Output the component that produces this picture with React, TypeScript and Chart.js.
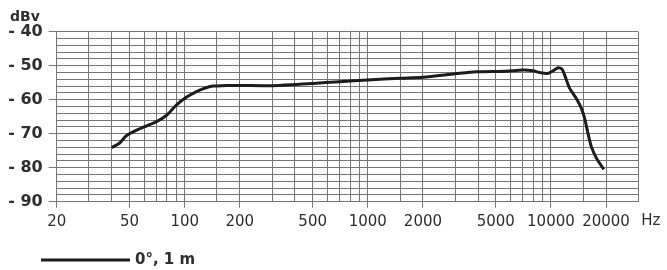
import React, { useEffect, useRef } from "react";
import { Chart, registerables } from "chart.js";

Chart.register(...registerables);

// Frequency response data (Hz, dBV)
const frequencies = [
  40, 44, 48, 55, 62, 70, 80, 90, 102, 116, 131, 143, 169, 200, 300, 390, 500, 700,
  1000, 1500, 2000, 3000, 3900, 5700, 7000, 7960, 8800, 9600, 10260, 10930, 11530,
  11870, 12640, 13740, 14650, 15280, 15930, 16620, 17730, 19440,
];
const levels = [
  -74.1, -72.8, -70.6, -68.9, -67.7, -66.5, -64.5, -61.6, -59.3, -57.6, -56.5, -56.0,
  -55.8, -55.8, -55.9, -55.6, -55.2, -54.7, -54.2, -53.7, -53.4, -52.4, -51.8, -51.6,
  -51.3, -51.5, -52.1, -52.3, -51.5, -50.6, -51.1, -52.7, -56.6, -59.6, -62.5, -65.5,
  -69.9, -73.8, -77.2, -80.5,
];
const seriesLabel = "0°, 1 m";

// Vertical grid lines and labelled x ticks
const xGridValues = [
  20, 30, 40, 50, 60, 70, 80, 90, 100, 150, 200, 300, 400, 500, 600, 700, 800, 900,
  1000, 1500, 2000, 3000, 4000, 5000, 6000, 7000, 8000, 9000, 10000, 15000, 20000, 30000,
];
const xTickLabels = [20, 50, 100, 200, 500, 1000, 2000, 5000, 10000, 20000];
const yMin = -90;
const yMax = -40;
const yLabelStep = 10;
const yGridStep = 2;
const yUnit = "dBv";
const xUnit = "Hz";

const GRID = "#757575";
const TEXT = "#2e2e2e";
const LINE = "#1c1c1c";
const FONT = "'DejaVu Sans', Verdana, sans-serif";

export default function App() {
  const canvasRef = useRef<HTMLCanvasElement | null>(null);

  useEffect(() => {
    const canvas = canvasRef.current;
    if (!canvas) return;
    const labelSet = new Set(xTickLabels);

    const overlay = {
      id: "overlay",
      afterDraw(chart: any) {
        const ctx = chart.ctx;
        const area = chart.chartArea;
        ctx.save();
        ctx.fillStyle = TEXT;
        ctx.font = `bold 14px ${FONT}`;
        ctx.textAlign = "left";
        ctx.textBaseline = "alphabetic";
        ctx.fillText(yUnit, 10, 21);
        ctx.font = `15px ${FONT}`;
        ctx.textBaseline = "middle";
        ctx.fillText(xUnit, area.right + 3, 221);
        // legend
        ctx.strokeStyle = LINE;
        ctx.lineWidth = 3;
        ctx.beginPath();
        ctx.moveTo(41, 260);
        ctx.lineTo(130, 260);
        ctx.stroke();
        ctx.font = `bold 15px ${FONT}`;
        ctx.fillText(chart.data.datasets[0].label, 135, 260);
        ctx.restore();
      },
    };

    const chart = new Chart(canvas, {
      type: "line",
      data: {
        datasets: [
          {
            label: seriesLabel,
            data: frequencies.map((f, i) => ({ x: f, y: levels[i] })),
            borderColor: LINE,
            borderWidth: 3,
            pointRadius: 0,
            tension: 0.25,
            fill: false,
          },
        ],
      },
      options: {
        responsive: false,
        animation: false,
        layout: { padding: { left: 0, right: 28.7, top: 31.7, bottom: 0 } },
        plugins: { legend: { display: false }, tooltip: { enabled: false } },
        scales: {
          x: {
            type: "logarithmic",
            min: 20,
            max: 30000,
            afterBuildTicks: (scale: any) => {
              scale.ticks = xGridValues.map((v) => ({ value: v }));
            },
            afterFit: (scale: any) => {
              scale.height = 270 - 201.7;
            },
            grid: {
              color: GRID,
              lineWidth: 1,
              tickLength: 6,
              tickColor: (c: any) => (c.tick && labelSet.has(c.tick.value) ? GRID : "rgba(0,0,0,0)"),
            },
            border: { color: GRID },
            ticks: {
              autoSkip: false,
              maxRotation: 0,
              padding: 5,
              color: TEXT,
              font: { family: FONT, size: 15 },
              callback: (v: any) => (labelSet.has(Number(v)) ? String(v) : ""),
            },
          },
          y: {
            type: "linear",
            min: yMin,
            max: yMax,
            afterFit: (scale: any) => {
              scale.width = 56.7;
            },
            grid: {
              color: GRID,
              lineWidth: 1,
              tickLength: 8,
              tickColor: (c: any) =>
                c.tick && Math.round(c.tick.value) % yLabelStep === 0 ? GRID : "rgba(0,0,0,0)",
            },
            border: { color: GRID },
            ticks: {
              stepSize: yGridStep,
              autoSkip: false,
              padding: 6,
              color: TEXT,
              font: { family: FONT, size: 16, weight: "bold" },
              callback: (v: any) =>
                Math.round(Number(v)) % yLabelStep === 0 ? "- " + Math.abs(Math.round(Number(v))) : "",
            },
          },
        },
      },
      plugins: [overlay],
    } as any);

    return () => chart.destroy();
  }, []);

  return (
    <div style={{ position: "fixed", left: 0, top: 0, width: 667, height: 270, background: "#fff" }}>
      <canvas ref={canvasRef} width={667} height={270} />
    </div>
  );
}
